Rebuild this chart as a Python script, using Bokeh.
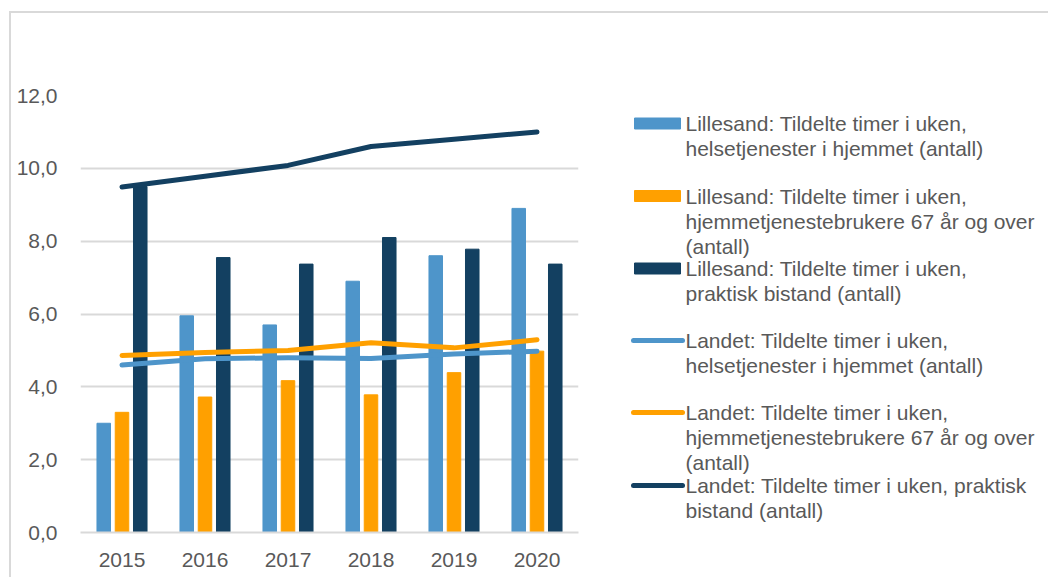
from bokeh.plotting import figure
from bokeh.layouts import row
from bokeh.models import Range1d, FactorRange, FixedTicker, ColumnDataSource
from bokeh.transform import dodge
from bokeh.core.properties import value
from bokeh.embed import file_html
from bokeh.resources import INLINE

years = ["2015", "2016", "2017", "2018", "2019", "2020"]
lillesand_helse = [3.0, 5.95, 5.7, 6.9, 7.6, 8.9]
lillesand_67 = [3.3, 3.72, 4.17, 3.78, 4.39, 4.98]
lillesand_praktisk = [9.5, 7.55, 7.37, 8.1, 7.78, 7.37]
landet_helse = [4.6, 4.77, 4.8, 4.78, 4.9, 4.98]
landet_67 = [4.86, 4.94, 5.0, 5.21, 5.07, 5.29]
landet_praktisk = [9.49, 9.78, 10.08, 10.6, 10.8, 11.0]
y_ticks = [0, 2, 4, 6, 8, 10, 12]
y_tick_labels = ["0,0", "2,0", "4,0", "6,0", "8,0", "10,0", "12,0"]
legend_labels = [
    "Lillesand: Tildelte timer i uken,\nhelsetjenester i hjemmet (antall)",
    "Lillesand: Tildelte timer i uken,\nhjemmetjenestebrukere 67 år og over\n(antall)",
    "Lillesand: Tildelte timer i uken,\npraktisk bistand (antall)",
    "Landet: Tildelte timer i uken,\nhelsetjenester i hjemmet (antall)",
    "Landet: Tildelte timer i uken,\nhjemmetjenestebrukere 67 år og over\n(antall)",
    "Landet: Tildelte timer i uken, praktisk\nbistand (antall)",
]

C_LIGHT = "#4e95ca"
C_ORANGE = "#ffa000"
C_DARK = "#134061"
TXT = "#595959"
GRID = "#d9d9d9"
FONT = "Liberation Sans"
FS = "21px"
LW = 5

src = ColumnDataSource(dict(year=years, a=lillesand_helse, b=lillesand_67, c=lillesand_praktisk,
                            la=landet_helse, lb=landet_67, lc=landet_praktisk))

MT, MB = 82, 45
H = 564
p = figure(width=589, height=H, x_range=FactorRange(*years, range_padding=0),
           y_range=Range1d(0, 12), output_backend="svg", toolbar_location=None,
           min_border_left=69, min_border_right=22, min_border_top=MT, min_border_bottom=MB)
p.outline_line_color = None
p.background_fill_color = "white"
p.border_fill_color = "white"

bw = 0.163
off = 0.22
p.vbar(x=dodge("year", -off, range=p.x_range), top="a", width=bw, color=C_LIGHT, source=src)
p.vbar(x=dodge("year", 0, range=p.x_range), top="b", width=bw, color=C_ORANGE, source=src)
p.vbar(x=dodge("year", off, range=p.x_range), top="c", width=bw, color=C_DARK, source=src)

for col, c in (("la", C_LIGHT), ("lb", C_ORANGE), ("lc", C_DARK)):
    p.line(x="year", y=col, source=src, line_color=c, line_width=LW, line_cap="round", line_join="round")

p.yaxis.ticker = FixedTicker(ticks=y_ticks)
p.yaxis.major_label_overrides = {t: l for t, l in zip(y_ticks, y_tick_labels)}
p.yaxis.axis_line_color = None
p.yaxis.major_tick_line_color = None
p.yaxis.minor_tick_line_color = None
p.yaxis.major_label_standoff = 17
p.xaxis.axis_line_color = GRID
p.xaxis.axis_line_width = 2
p.xaxis.major_tick_line_color = None
p.xaxis.minor_tick_line_color = None
p.xaxis.major_label_standoff = 14
for ax in (p.xaxis, p.yaxis):
    ax.major_label_text_font = FONT
    ax.major_label_text_font_size = FS
    ax.major_label_text_color = TXT
p.xgrid.grid_line_color = None
p.ygrid.grid_line_color = GRID
p.ygrid.grid_line_width = 2

# legend panel, drawn in page pixel coordinates (frame spans page y 95..532)
lg = figure(width=448, height=H, x_range=Range1d(600, 1048), y_range=Range1d(532, 95),
            output_backend="svg", toolbar_location=None,
            min_border_left=0, min_border_right=0, min_border_top=MT, min_border_bottom=MB)
lg.axis.visible = False
lg.grid.visible = False
lg.outline_line_color = None

item_y = [123, 195.5, 268, 340, 412, 485]
colors = [C_LIGHT, C_ORANGE, C_DARK, C_LIGHT, C_ORANGE, C_DARK]
kinds = ["bar", "bar", "bar", "line", "line", "line"]
tx, ty, tt = [], [], []
for yy, col, kind, lab in zip(item_y, colors, kinds, legend_labels):
    if kind == "bar":
        lg.quad(left=[634], right=[680], top=[yy - 5.5], bottom=[yy + 5.5], color=col)
    else:
        lg.line(x=[633, 682], y=[yy, yy], line_color=col, line_width=LW, line_cap="round")
    for k, ln in enumerate(lab.split("\n")):
        tx.append(685)
        ty.append(yy + 25 * k)
        tt.append(ln)
lg.text(x=tx, y=ty, text=tt, text_font=value(FONT), text_font_size=FS, text_color=TXT,
        text_baseline="middle", text_align="left")

layout = row(p, lg, styles={"border-top": "2px solid #d9d9d9", "border-left": "2px solid #d9d9d9"},
             margin=(11, 0, 0, 9))

open("out.html", "w").write(file_html(layout, INLINE))
